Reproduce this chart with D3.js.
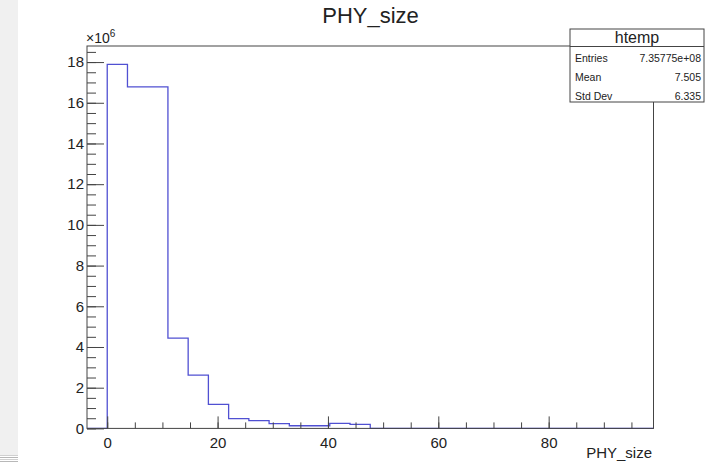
<!DOCTYPE html>
<html>
<head>
<meta charset="utf-8">
<script src="https://cdn.jsdelivr.net/npm/d3@7"></script>
<style>
  body { margin: 0; background: #fff; }
  svg { display: block; }
  text { font-family: "Liberation Sans", Arial, Helvetica, sans-serif; fill: #222; }
</style>
</head>
<body>
<div id="chart"></div>
<script>
// histogram of PHY_size, bin contents in units of 1e6
var binStart = -11 / 3;
var binWidth = 11 / 3;
var counts = [0, 17.89, 16.78, 16.78, 4.44, 2.62, 1.18, 0.48, 0.38, 0.23, 0.13, 0.13, 0.25, 0.2,
              0, 0, 0, 0, 0, 0, 0, 0, 0, 0, 0, 0, 0, 0];
var xTicks = [0, 20, 40, 60, 80];
var yTicks = [0, 2, 4, 6, 8, 10, 12, 14, 16, 18];
var statNames = ["Entries", "Mean", "Std Dev"];
var statValues = ["7.35775e+08", "7.505", "6.335"];

var W = 709, H = 468;
// frame edges (note: "top" is reserved on window, so use frame*)
var frameL = 87, frameR = 653.5, frameT = 46, frameB = 428.4;

var svg = d3.select("#chart").append("svg")
    .attr("width", W)
    .attr("height", H);

// grey strip on the left of the screenshot
svg.append("rect").attr("x", 0).attr("y", 0).attr("width", 18).attr("height", 455).attr("fill", "#f0f0f0");
[455.5, 457.5, 459.5, 461.5].forEach(function (y, i) {
    svg.append("line").attr("x1", 0).attr("x2", 18).attr("y1", y).attr("y2", y)
        .attr("stroke", i % 2 ? "#b8b8b8" : "#d0d0d0");
});

var xMax = binStart + binWidth * counts.length;
var x = d3.scaleLinear().domain([binStart, xMax]).range([frameL, frameR]);
var y = d3.scaleLinear().domain([0, 18.79]).range([frameB, frameT]);

// step outline of the histogram
var pts = [[binStart, 0]];
counts.forEach(function (c, i) {
    pts.push([binStart + i * binWidth, c]);
    pts.push([binStart + (i + 1) * binWidth, c]);
});
pts.push([xMax, 0]);
svg.append("path")
    .attr("d", d3.line().x(function (d) { return x(d[0]); }).y(function (d) { return y(d[1]); })(pts))
    .attr("fill", "none")
    .attr("stroke", "#5050d2")
    .attr("stroke-width", 1.3);

// axes: ticks point inward like ROOT
var xMinor = d3.range(0, 100, 5);
svg.append("g").attr("transform", "translate(0," + frameB + ")")
    .call(d3.axisBottom(x).tickValues(xMinor).tickSize(-6).tickFormat(""))
    .call(function (g) { g.select(".domain").remove(); });
svg.append("g").attr("class", "xaxis").attr("transform", "translate(0," + frameB + ")")
    .call(d3.axisBottom(x).tickValues(xTicks).tickSize(-12).tickPadding(5).tickFormat(d3.format("d")))
    .call(function (g) { g.select(".domain").remove(); });

var yMinor = d3.range(0, 18.6, 0.5);
svg.append("g").attr("transform", "translate(" + frameL + ",0)")
    .call(d3.axisLeft(y).tickValues(yMinor).tickSize(-9).tickFormat(""))
    .call(function (g) { g.select(".domain").remove(); });
svg.append("g").attr("class", "yaxis").attr("transform", "translate(" + frameL + ",0)")
    .call(d3.axisLeft(y).tickValues(yTicks).tickSize(-17).tickPadding(3).tickFormat(d3.format("d")))
    .call(function (g) { g.select(".domain").remove(); });

svg.selectAll(".tick line").attr("stroke", "#444");
svg.selectAll(".tick text").style("font-size", "15px").attr("fill", "#222");
svg.selectAll(".xaxis .tick text").attr("dy", "0.95em");

// frame
svg.append("rect")
    .attr("x", frameL).attr("y", frameT)
    .attr("width", frameR - frameL).attr("height", frameB - frameT)
    .attr("fill", "none").attr("stroke", "#444");

// x10^6 label
var exp = svg.append("text").attr("x", 86).attr("y", 42.5).style("font-size", "14px");
exp.append("tspan").text("\u00d710");
exp.append("tspan").attr("dy", -6).style("font-size", "10px").text("6");

// title and axis title
svg.append("text").attr("x", 370.5).attr("y", 22.5).attr("text-anchor", "middle")
    .style("font-size", "22px").text("PHY_size");
svg.append("text").attr("x", 652).attr("y", 458).attr("text-anchor", "end")
    .style("font-size", "15px").text("PHY_size");

// stats box
var box = svg.append("g");
box.append("rect").attr("x", 570).attr("y", 29).attr("width", 134).attr("height", 73)
    .attr("fill", "#fff").attr("stroke", "#444");
box.append("line").attr("x1", 570).attr("x2", 704).attr("y1", 46.5).attr("y2", 46.5).attr("stroke", "#444");
box.append("text").attr("x", 637).attr("y", 43).attr("text-anchor", "middle")
    .style("font-size", "16px").text("htemp");
var rowY = [62, 81, 99.5];
statNames.forEach(function (n, i) {
    box.append("text").attr("x", 575).attr("y", rowY[i]).style("font-size", "10.5px").text(n);
    box.append("text").attr("x", 701).attr("y", rowY[i]).attr("text-anchor", "end")
        .style("font-size", "10.5px").text(statValues[i]);
});
</script>
</body>
</html>
